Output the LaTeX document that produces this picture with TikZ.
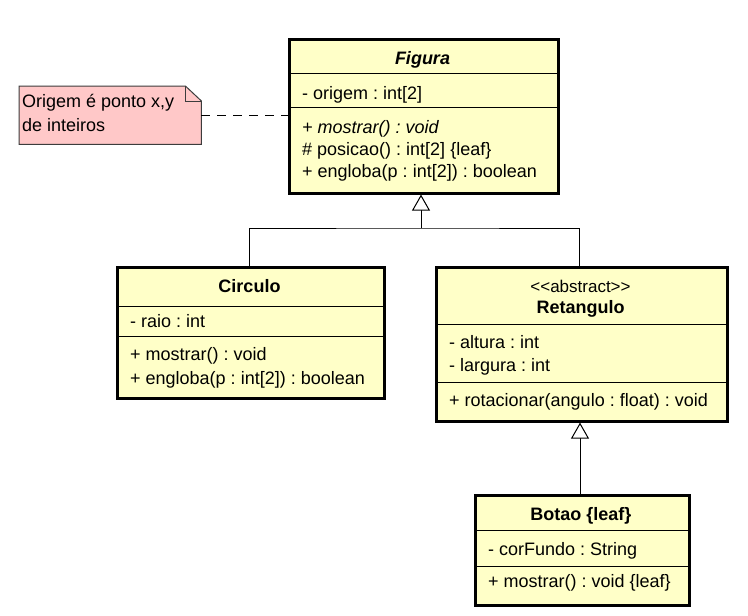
\documentclass[tikz,border=0pt]{standalone}
\usepackage{fontspec}
\setmainfont[Ligatures=NoCommon]{Liberation Sans}
\usetikzlibrary{arrows.meta}
\definecolor{classfill}{RGB}{255,255,200}
\definecolor{notefill}{RGB}{255,200,200}
\definecolor{noteline}{RGB}{60,60,60}
\frenchspacing

\begin{document}
\begin{tikzpicture}[x=1pt,y=-1pt,
  cls/.style={draw=black, line width=2.6pt, fill=classfill, inner sep=0pt, anchor=north west},
  sep/.style={line width=0.9pt},
  txt/.style={anchor=west, inner sep=0pt, text height=12.8pt, text depth=0pt, font=\fontsize{18}{22}\selectfont},
  ttl/.style={txt, anchor=center, font=\fontsize{18}{22}\selectfont\bfseries},
  gen/.style={line width=1pt, -{Triangle[fill=white, length=16pt, width=18pt, line width=1pt]}},
  notebody/.style={draw=noteline, line width=1pt, fill=notefill},
  anchorline/.style={line width=1pt, dash pattern=on 9pt off 7pt}
]
\useasboundingbox[fill=white] (0,0) rectangle (748,616);

% ---- Figura ----
\node[cls, minimum width=269pt, minimum height=154pt] (fig) at (288,38) {};
\draw[sep] (288,73) -- (557,73);
\draw[sep] (288,107) -- (557,107);
\node[ttl, font=\fontsize{18}{22}\selectfont\bfseries\itshape] (figT) at (422.5,58) {Figura};
\node[txt] (figA1) at (302,93) {- origem : int[2]};
\node[txt, font=\fontsize{18}{22}\selectfont\itshape] (figM1) at (302,127) {+ mostrar() : void};
\node[txt] (figM2) at (302,149) {\# posicao() : int[2] \{leaf\}};
\node[txt] (figM3) at (302,171) {+ engloba(p : int[2]) : boolean};

% ---- note ----
\node[inner sep=0pt, minimum width=182pt, minimum height=58pt, anchor=north west] (note) at (19,86) {};
\draw[notebody] (note.south west) -- (note.north west) -- ([xshift=-16pt]note.north east)
  -- ([yshift=-15pt]note.north east) -- (note.south east) -- cycle;
\draw[draw=noteline, line width=1pt] ([xshift=-16pt]note.north east) -- ([xshift=-16pt,yshift=-15pt]note.north east)
  -- ([yshift=-15pt]note.north east);
\node[txt] (noteL1) at (22,101) {Origem é ponto x,y};
\node[txt] (noteL2) at (22,125) {de inteiros};
\coordinate (noteR) at (201,115);
\draw[anchorline] (noteR) -- (noteR -| fig.west);

% ---- Circulo ----
\node[cls, minimum width=267pt, minimum height=131pt] (circ) at (116,266) {};
\draw[sep] (116,306) -- (383,306);
\draw[sep] (116,336) -- (383,336);
\node[ttl] (circT) at (249.5,286) {Circulo};
\node[txt] (circA1) at (130,321) {- raio : int};
\node[txt] (circM1) at (130,354) {+ mostrar() : void};
\node[txt] (circM2) at (130,378) {+ engloba(p : int[2]) : boolean};

% ---- Retangulo ----
\node[cls, minimum width=291pt, minimum height=154pt] (ret) at (435,266) {};
\draw[sep] (435,324) -- (726,324);
\draw[sep] (435,382) -- (726,382);
\node[txt, anchor=center, font=\fontsize{17}{21}\selectfont] (retS) at (580.5,286) {{<}{<}abstract{>}{>}};
\node[ttl] (retT) at (580.5,307) {Retangulo};
\node[txt] (retA1) at (449,342) {- altura : int};
\node[txt] (retA2) at (449,365) {- largura : int};
\node[txt] (retM1) at (449,400) {+ rotacionar(angulo : float) : void};

% ---- Botao ----
\node[cls, minimum width=214pt, minimum height=110pt] (bot) at (474,494) {};
\draw[sep] (474,530) -- (688,530);
\draw[sep] (474,566) -- (688,566);
\node[ttl] (botT) at (581,514) {Botao \{leaf\}};
\node[txt] (botA1) at (488,549) {- corFundo : String};
\node[txt] (botM1) at (488,581) {+ mostrar() : void \{leaf\}};

% ---- generalizations ----
\coordinate (join) at (421,228);
\draw[line width=1pt] (circ.north -| 249,0) |- (join) -| (ret.north -| 579,0);
\draw[gen] (join) -- (join |- fig.south);
\draw[gen] (bot.north -| 580,0) -- (ret.south -| 580,0);
\end{tikzpicture}
\end{document}
